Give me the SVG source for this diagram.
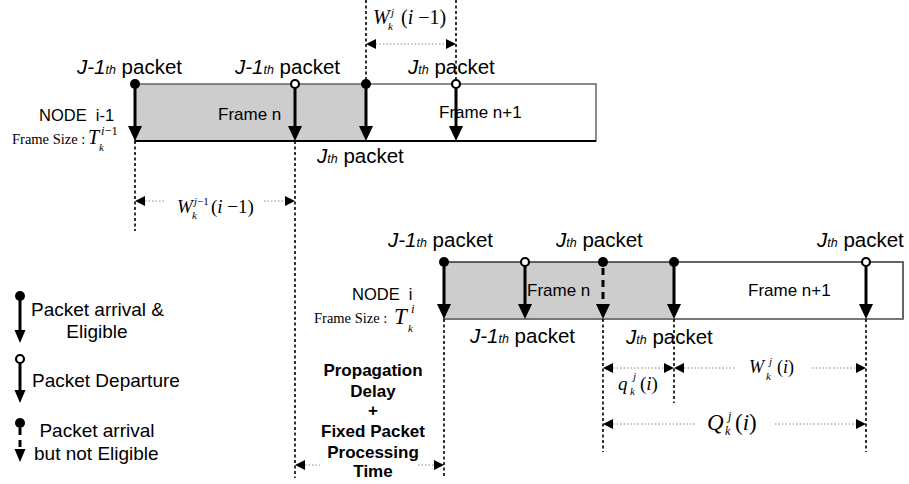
<svg xmlns="http://www.w3.org/2000/svg" xmlns:xlink="http://www.w3.org/1999/xlink" width="909" height="484" viewBox="0 0 909 484">
  <style>
    .sans { font-family: "Liberation Sans", Arial, sans-serif; fill: #000; }
    .serif { font-family: "Liberation Serif", "Times New Roman", serif; fill: #000; }
    .pk { font-size: 20.5px; }
    .it { font-style: italic; }
    .th { font-size: 12.5px; font-style: italic; }
    .frm { font-size: 17px; }
    .node { font-size: 16.5px; }
    .leg { font-size: 19px; }
    .bold { font-size: 17px; font-weight: bold; }
    .shaft { stroke: #000; stroke-width: 3; fill: none; }
    .dshaft { stroke: #000; stroke-width: 3; stroke-dasharray: 7 5; fill: none; }
    .guide { stroke: #000; stroke-width: 1.6; stroke-dasharray: 3 2.5; fill: none; }
    .dim { stroke: #8a8a8a; stroke-width: 1; stroke-dasharray: 1.5 2; fill: none; }
    .dot { fill: #000; }
    .ring { fill: #fff; stroke: #000; stroke-width: 2.2; }
  </style>
  <defs>
    <!-- downward arrowhead, tip at origin -->
    <path id="head" d="M-7,-15 L7,-15 L0,0 Z" fill="#000"/>
    <path id="headS" d="M-5.5,-13 L5.5,-13 L0,0 Z" fill="#000"/>
    <!-- dimension arrowheads, tip at origin -->
    <path id="dimL" d="M0,0 L10,-5 L10,5 Z" fill="#000"/>
    <path id="dimR" d="M0,0 L-10,-5 L-10,5 Z" fill="#000"/>
  </defs>

  <!-- NODE i-1 frames -->
  <g id="node-i-1">
    <rect x="135" y="84" width="231" height="57" fill="#cdcdcd"/>
    <rect x="135" y="84" width="461" height="57" fill="none" stroke="#666" stroke-width="1.5"/>
    <line x1="135" y1="141" x2="596" y2="141" stroke="#000" stroke-width="1.8"/>
    <text class="sans node" x="39" y="121">NODE&#160; i-1</text>
    <text class="serif" font-size="14.5" x="12" y="144">Frame Size :</text>
    <text class="serif it" font-size="20" x="88" y="144">T</text>
    <text class="serif" font-size="12.5" x="101" y="135"><tspan class="it">i</tspan>−1</text>
    <text class="serif it" font-size="11" x="99" y="151">k</text>
    <text class="sans frm" x="218" y="120">Frame n</text>
    <text class="sans frm" x="439" y="118">Frame n+1</text>
  </g>

  <!-- NODE i frames -->
  <g id="node-i">
    <rect x="444" y="262" width="230" height="57" fill="#cdcdcd"/>
    <rect x="444" y="262" width="459" height="57" fill="none" stroke="#333" stroke-width="1.5"/>
    <line x1="444" y1="319" x2="903" y2="319" stroke="#777" stroke-width="1.8"/>
    <text class="sans node" x="352" y="300">NODE&#160; i</text>
    <text class="serif" font-size="14.5" x="314" y="323">Frame Size :</text>
    <text class="serif it" font-size="23" x="394" y="324">T</text>
    <text class="serif it" font-size="13" x="411" y="313">i</text>
    <text class="serif it" font-size="11" x="408" y="332">k</text>
    <text class="sans frm" x="527" y="296">Frame n</text>
    <text class="sans frm" x="748" y="296">Frame n+1</text>
  </g>

  <!-- packet labels -->
  <g id="packet-labels">
    <text class="sans pk" x="77" y="74"><tspan class="it">J-1</tspan><tspan class="th">th</tspan> packet</text>
    <text class="sans pk" x="235" y="74"><tspan class="it">J-1</tspan><tspan class="th">th</tspan> packet</text>
    <text class="sans pk" x="408" y="74"><tspan class="it">J</tspan><tspan class="th">th</tspan> packet</text>
    <text class="sans pk" x="317" y="163"><tspan class="it">J</tspan><tspan class="th">th</tspan> packet</text>
    <text class="sans pk" x="388" y="247"><tspan class="it">J-1</tspan><tspan class="th">th</tspan> packet</text>
    <text class="sans pk" x="556" y="247"><tspan class="it">J</tspan><tspan class="th">th</tspan> packet</text>
    <text class="sans pk" x="817" y="247"><tspan class="it">J</tspan><tspan class="th">th</tspan> packet</text>
    <text class="sans pk" x="470" y="343"><tspan class="it">J-1</tspan><tspan class="th">th</tspan> packet</text>
    <text class="sans pk" x="626" y="344"><tspan class="it">J</tspan><tspan class="th">th</tspan> packet</text>
  </g>

  <!-- interval labels -->
  <g id="interval-labels">
    <!-- W_k^j(i-1) -->
    <text class="serif it" font-size="20" x="373" y="24">W</text>
    <text class="serif it" font-size="11" x="391" y="16">j</text>
    <text class="serif it" font-size="11" x="388" y="30">k</text>
    <text class="serif" font-size="20" x="401" y="24">(<tspan class="it">i</tspan> −1)</text>
    <!-- W_k^{j-1}(i-1) -->
    <text class="serif it" font-size="19" x="177" y="213">W</text>
    <text class="serif" font-size="11" x="194" y="205"><tspan class="it">j</tspan>−1</text>
    <text class="serif it" font-size="11" x="192" y="219">k</text>
    <text class="serif" font-size="19" x="211" y="213">(<tspan class="it">i</tspan> −1)</text>
    <!-- q_k^j(i) -->
    <text class="serif it" font-size="19" x="618" y="390">q</text>
    <text class="serif it" font-size="11" x="633" y="380">j</text>
    <text class="serif it" font-size="11" x="630" y="395">k</text>
    <text class="serif" font-size="19" x="640" y="390">(<tspan class="it">i</tspan>)</text>
    <!-- W_k^j(i) -->
    <text class="serif it" font-size="18" x="749" y="373">W</text>
    <text class="serif it" font-size="11" x="769" y="365">j</text>
    <text class="serif it" font-size="11" x="766" y="380">k</text>
    <text class="serif" font-size="18" x="777" y="373">(<tspan class="it">i</tspan>)</text>
    <!-- Q_k^j(i) -->
    <text class="serif it" font-size="23" x="707" y="430">Q</text>
    <text class="serif it" font-size="12" x="728" y="420">j</text>
    <text class="serif it" font-size="12" x="725" y="435">k</text>
    <text class="serif" font-size="23" x="735" y="430">(<tspan class="it">i</tspan>)</text>
  </g>

  <!-- delay note -->
  <g id="delay-note">
    <text class="sans bold" text-anchor="middle" x="373" y="376">Propagation</text>
    <text class="sans bold" text-anchor="middle" x="373" y="397">Delay</text>
    <text class="sans bold" text-anchor="middle" x="373" y="416">+</text>
    <text class="sans bold" text-anchor="middle" x="373" y="437">Fixed Packet</text>
    <text class="sans bold" text-anchor="middle" x="373" y="458">Processing</text>
    <text class="sans bold" text-anchor="middle" x="373" y="477">Time</text>
  </g>

  <!-- legend -->
  <g id="legend-eligible">
    <line class="shaft" x1="20" y1="296" x2="20" y2="331"/>
    <circle class="dot" cx="20" cy="296" r="5"/>
    <use xlink:href="#headS" x="20" y="343"/>
    <text class="sans leg" x="31" y="316">Packet arrival &amp;</text>
    <text class="sans leg" x="97" y="338" text-anchor="middle">Eligible</text>
  </g>
  <g id="legend-departure">
    <line class="shaft" x1="20" y1="363" x2="20" y2="391"/>
    <circle class="ring" cx="20" cy="359" r="4"/>
    <use xlink:href="#headS" x="20" y="403"/>
    <text class="sans leg" x="32" y="387">Packet Departure</text>
  </g>
  <g id="legend-not-eligible">
    <line class="dshaft" x1="20" y1="428" x2="20" y2="449" stroke-dasharray="6 5"/>
    <circle class="dot" cx="20" cy="423" r="5"/>
    <use xlink:href="#headS" x="20" y="462"/>
    <text class="sans leg" x="97" y="437" text-anchor="middle">Packet arrival</text>
    <text class="sans leg" x="34" y="460">but not Eligible</text>
  </g>

  <!-- connectors: packet arrows, time guides, interval markers -->
  <g id="connectors">
    <!-- time guides -->
    <line class="guide" x1="366" y1="0" x2="366" y2="84"/>
    <line class="guide" x1="456" y1="0" x2="456" y2="84"/>
    <line class="guide" x1="135" y1="141" x2="135" y2="231"/>
    <line class="guide" x1="295" y1="141" x2="295" y2="478"/>
    <line class="guide" x1="444" y1="319" x2="444" y2="478"/>
    <line class="guide" x1="603" y1="319" x2="603" y2="452"/>
    <line class="guide" x1="674" y1="319" x2="674" y2="403"/>
    <line class="guide" x1="866" y1="319" x2="866" y2="452"/>

    <!-- NODE i-1 packet arrows -->
    <line class="shaft" x1="135" y1="84" x2="135" y2="127"/>
    <circle class="dot" cx="135" cy="84" r="5"/>
    <use xlink:href="#head" x="135" y="141"/>
    <line class="shaft" x1="295" y1="88" x2="295" y2="127"/>
    <circle class="ring" cx="295" cy="84" r="4"/>
    <use xlink:href="#head" x="295" y="141"/>
    <line class="shaft" x1="366" y1="84" x2="366" y2="127"/>
    <circle class="dot" cx="366" cy="84" r="5"/>
    <use xlink:href="#head" x="366" y="141"/>
    <line class="shaft" x1="456" y1="88" x2="456" y2="127"/>
    <circle class="ring" cx="456" cy="84" r="4"/>
    <use xlink:href="#head" x="456" y="141"/>

    <!-- NODE i packet arrows -->
    <line class="shaft" x1="444" y1="262" x2="444" y2="305"/>
    <circle class="dot" cx="444" cy="262" r="5"/>
    <use xlink:href="#head" x="444" y="319"/>
    <line class="shaft" x1="525" y1="266" x2="525" y2="305"/>
    <circle class="ring" cx="525" cy="262" r="4"/>
    <use xlink:href="#head" x="525" y="319"/>
    <line class="dshaft" x1="603" y1="268" x2="603" y2="305"/>
    <circle class="dot" cx="603" cy="262" r="5"/>
    <use xlink:href="#head" x="603" y="319"/>
    <line class="shaft" x1="674" y1="262" x2="674" y2="305"/>
    <circle class="dot" cx="674" cy="262" r="5"/>
    <use xlink:href="#head" x="674" y="319"/>
    <line class="shaft" x1="866" y1="266" x2="866" y2="305"/>
    <circle class="ring" cx="866" cy="262" r="4"/>
    <use xlink:href="#head" x="866" y="319"/>

    <!-- interval markers -->
    <line class="dim" x1="376" y1="44" x2="446" y2="44"/>
    <use xlink:href="#dimL" x="366" y="44"/>
    <use xlink:href="#dimR" x="456" y="44"/>

    <line class="dim" x1="145" y1="201" x2="165" y2="201"/>
    <line class="dim" x1="264" y1="201" x2="285" y2="201"/>
    <use xlink:href="#dimL" x="135" y="201"/>
    <use xlink:href="#dimR" x="295" y="201"/>

    <line class="dim" x1="613" y1="368" x2="664" y2="368"/>
    <use xlink:href="#dimL" x="603" y="368"/>
    <use xlink:href="#dimR" x="674" y="368"/>

    <line class="dim" x1="684" y1="368" x2="735" y2="368"/>
    <line class="dim" x1="812" y1="368" x2="856" y2="368"/>
    <use xlink:href="#dimL" x="674" y="368"/>
    <use xlink:href="#dimR" x="866" y="368"/>

    <line class="dim" x1="613" y1="424" x2="695" y2="424"/>
    <line class="dim" x1="775" y1="424" x2="856" y2="424"/>
    <use xlink:href="#dimL" x="603" y="424"/>
    <use xlink:href="#dimR" x="866" y="424"/>

    <line class="dim" x1="305" y1="465" x2="320" y2="465"/>
    <line class="dim" x1="418" y1="465" x2="434" y2="465"/>
    <use xlink:href="#dimL" x="295" y="465"/>
    <use xlink:href="#dimR" x="444" y="465"/>
  </g>
</svg>
